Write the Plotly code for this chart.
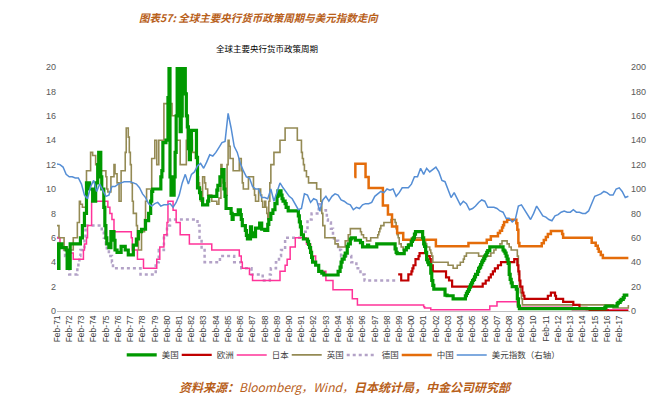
import plotly.graph_objects as go

# ---------------- data ----------------
us_dates = ["1971-02","1971-03","1971-04","1971-07","1971-11","1971-12","1972-03","1972-09","1973-01","1973-03","1973-05","1973-07","1973-10",
            "1974-01","1974-04","1974-06","1974-07","1974-09","1974-10","1974-12","1975-01","1975-02","1975-03","1975-05","1975-07","1975-10","1975-11",
            "1976-01","1976-05","1976-09","1976-12","1977-05","1977-08","1977-10","1978-01","1978-05","1978-08","1978-10","1978-11","1978-12",
            "1979-08","1979-09","1979-10","1980-01","1980-03","1980-04","1980-05","1980-06","1980-09","1980-10","1980-11","1980-12",
            "1981-02","1981-03","1981-04","1981-05","1981-08","1981-09","1981-10","1981-11","1981-12","1982-01","1982-02","1982-07","1982-08",
            "1982-10","1982-11","1983-01","1983-06","1983-07","1984-03","1984-04","1984-06","1984-08","1984-10","1984-11","1984-12",
            "1985-05","1985-06","1985-07","1985-12","1986-02","1986-03","1986-04","1986-07","1986-08","1986-09","1986-12","1987-01","1987-02",
            "1987-05","1987-09","1987-11","1988-02","1988-05","1988-06","1988-08","1988-10","1988-12","1989-02","1989-03","1989-06","1989-07",
            "1989-08","1989-10","1989-11","1990-01","1990-11","1990-12","1991-01","1991-02","1991-04","1991-08","1991-09","1991-10","1991-11",
            "1991-12","1992-01","1992-04","1992-07","1992-10","1992-12","1994-02","1994-04","1994-05","1994-06","1994-08","1994-09","1994-11",
            "1994-12","1995-02","1995-03","1995-07","1995-12","1996-02","1996-07","1996-08","1997-04","1998-10","1998-11","1998-12","1999-07",
            "1999-09","1999-11","2000-02","2000-03","2000-04","2000-05","2000-06","2001-01","2001-02","2001-03","2001-04","2001-05","2001-06",
            "2001-07","2001-09","2001-10","2001-11","2001-12","2002-11","2003-01","2003-07","2004-07","2004-08","2004-09","2004-10","2004-11",
            "2004-12","2005-01","2005-02","2005-03","2005-04","2005-05","2005-07","2005-08","2005-09","2005-10","2005-11","2005-12","2006-01",
            "2006-02","2006-03","2006-04","2006-05","2006-07","2007-08","2007-09","2007-10","2007-11","2007-12","2008-01","2008-02","2008-03",
            "2008-04","2008-05","2008-09","2008-10","2008-11","2008-12","2015-12","2016-01","2016-12","2017-01","2017-03","2017-04","2017-06",
            "2017-07","2017-11"]
us_values = [5.5,3.5,5.5,5.2,5.0,3.5,5.5,5.5,6.0,7.0,8.0,10.5,10.0,
             9.0,10.5,12.0,13.0,11.0,10.0,8.5,7.0,6.0,5.5,5.2,6.5,5.8,5.0,
             4.8,5.3,5.0,4.6,5.4,5.9,6.5,6.7,7.4,8.0,9.0,9.8,10.0,
             11.0,11.5,13.8,14.0,17.5,20.0,11.0,9.5,11.0,13.0,16.0,20.0,
             16.0,14.7,16.0,20.0,17.8,16.0,15.1,13.3,12.4,13.2,14.8,12.6,10.1,
             9.7,9.2,8.7,9.0,9.4,9.9,10.3,11.0,11.6,10.0,9.4,8.4,
             8.0,7.5,7.9,8.3,7.9,7.5,7.0,6.6,6.2,5.9,6.9,6.4,6.1,
             6.8,7.2,6.7,6.6,7.1,7.5,8.0,8.3,8.8,9.4,9.85,9.5,9.2,
             9.0,8.8,8.5,8.2,7.8,7.3,6.9,6.25,5.9,5.7,5.45,5.2,4.8,
             4.4,4.0,3.75,3.25,3.1,2.95,3.25,3.6,4.0,4.25,4.5,4.75,5.3,
             5.5,5.9,6.0,5.8,5.6,5.25,5.4,5.25,5.5,5.1,4.8,4.7,5.0,
             5.2,5.4,5.7,5.85,6.0,6.3,6.5,6.0,5.5,5.3,4.8,4.2,4.0,
             3.8,3.1,2.5,2.1,1.8,1.3,1.25,1.0,1.25,1.45,1.6,1.75,1.95,
             2.15,2.3,2.5,2.6,2.8,3.0,3.25,3.5,3.6,3.8,4.0,4.15,4.3,
             4.5,4.6,4.8,4.95,5.25,5.0,4.9,4.75,4.5,4.25,3.9,3.0,2.6,
             2.3,2.0,1.8,1.0,0.4,0.2,0.3,0.4,0.6,0.7,0.85,0.95,1.1,
             1.3,1.3]

eu_dates = ["1999-01","1999-04","1999-11","2000-02","2000-03","2000-04","2000-06","2000-09","2000-10","2001-05","2001-08","2001-09",
            "2001-11","2002-12","2003-03","2003-06","2005-12","2006-03","2006-06","2006-08","2006-10","2006-12","2007-03","2007-06",
            "2008-07","2008-10","2008-11","2008-12","2009-01","2009-03","2009-04","2009-05","2011-04","2011-07","2011-11","2011-12",
            "2012-07","2013-05","2013-11","2014-06","2014-09","2016-03","2017-11"]
eu_values = [3.0,2.5,3.0,3.25,3.5,3.75,4.25,4.5,4.75,4.5,4.25,3.75,
             3.25,2.75,2.5,2.0,2.25,2.5,2.75,3.0,3.25,3.5,3.75,4.0,
             4.25,3.75,3.25,2.5,2.0,1.5,1.25,1.0,1.25,1.5,1.25,1.0,
             0.75,0.5,0.25,0.15,0.05,0.0,0.0]

jp_dates = ["1971-02","1971-05","1971-07","1971-12","1972-06","1973-04","1973-05","1973-07","1973-08","1973-12","1975-04","1975-06",
            "1975-08","1975-10","1977-03","1977-04","1977-09","1978-03","1979-04","1979-07","1979-11","1980-02","1980-03","1980-08",
            "1980-11","1981-03","1981-12","1983-10","1986-01","1986-03","1986-04","1986-11","1987-02","1989-05","1989-10","1989-12",
            "1990-03","1990-08","1991-07","1991-11","1991-12","1992-04","1992-07","1993-02","1993-09","1995-04","1995-09","2001-02",
            "2001-03","2001-09","2006-07","2007-02","2008-10","2008-12","2013-04","2017-11"]
jp_values = [6.0,5.5,5.25,4.75,4.25,5.0,5.5,6.0,7.0,9.0,8.5,8.0,
             7.5,6.5,6.0,5.0,4.25,3.5,4.25,5.25,6.25,7.25,9.0,8.25,
             7.25,6.25,5.5,5.0,4.5,4.0,3.5,3.0,2.5,3.25,3.75,4.25,
             5.25,6.0,5.5,5.0,4.5,3.75,3.25,2.5,1.75,1.0,0.5,0.35,
             0.25,0.1,0.4,0.75,0.5,0.3,0.1,0.1]

uk_dates = ["1971-02","1971-04","1971-09","1972-06","1972-10","1972-12","1973-01","1973-03","1973-07","1973-11","1974-01","1974-04",
            "1974-09","1975-02","1975-03","1975-04","1975-07","1975-10","1975-11","1976-01","1976-03","1976-05","1976-09","1976-10",
            "1976-12","1977-01","1977-02","1977-03","1977-04","1977-05","1977-08","1977-09","1977-10","1978-01","1978-04","1978-05",
            "1978-06","1978-11","1979-02","1979-04","1979-06","1979-11","1980-07","1980-11","1981-03","1981-09","1981-10","1981-11",
            "1982-01","1982-03","1982-06","1982-08","1982-09","1982-10","1982-11","1983-01","1983-03","1983-04","1983-06","1983-10",
            "1984-03","1984-05","1984-07","1984-08","1984-09","1984-11","1985-01","1985-02","1985-03","1985-04","1985-07","1986-01",
            "1986-03","1986-04","1986-05","1986-10","1987-03","1987-04","1987-05","1987-08","1987-10","1987-11","1987-12","1988-02",
            "1988-03","1988-04","1988-05","1988-06","1988-07","1988-08","1988-11","1989-05","1989-10","1990-10","1991-02","1991-03",
            "1991-04","1991-05","1991-07","1991-09","1992-05","1992-09","1992-10","1992-11","1993-01","1993-11","1994-02","1994-09",
            "1994-12","1995-02","1995-12","1996-01","1996-03","1996-06","1996-10","1997-05","1997-06","1997-07","1997-08","1997-11",
            "1998-06","1998-10","1998-11","1998-12","1999-01","1999-02","1999-04","1999-06","1999-09","1999-11","2000-01","2000-02",
            "2001-02","2001-04","2001-05","2001-08","2001-09","2001-10","2001-11","2003-02","2003-07","2003-11","2004-02","2004-05",
            "2004-06","2004-08","2005-08","2006-08","2006-11","2007-01","2007-05","2007-07","2007-12","2008-02","2008-04","2008-10",
            "2008-11","2008-12","2009-01","2009-02","2009-03","2016-08","2017-11"]
uk_values = [7.0,6.0,5.0,6.0,7.25,9.0,8.75,8.5,11.5,13.0,12.75,12.0,
             11.5,11.0,10.0,9.75,11.0,12.0,11.25,10.5,9.0,11.5,13.0,15.0,
             14.25,13.0,12.0,10.5,9.0,8.0,7.0,6.0,5.0,6.5,7.5,9.0,
             10.0,12.5,14.0,12.0,14.0,17.0,16.0,14.0,12.0,14.0,16.0,14.5,
             14.0,13.0,12.5,11.0,10.5,10.0,9.0,11.0,10.5,10.0,9.5,9.0,
             8.75,9.25,12.0,11.0,10.5,9.5,12.0,14.0,13.5,12.5,11.5,12.5,
             11.5,10.5,10.0,11.0,10.0,9.5,9.0,10.0,9.5,9.0,8.5,9.0,
             8.5,8.0,7.5,9.0,10.5,12.0,13.0,14.0,15.0,14.0,13.0,12.5,
             12.0,11.5,11.0,10.5,10.0,9.0,8.0,7.0,6.0,5.5,5.25,5.75,
             6.25,6.75,6.5,6.25,6.0,5.75,6.0,6.25,6.5,6.75,7.0,7.25,
             7.5,7.25,6.75,6.25,6.0,5.5,5.25,5.0,5.25,5.5,5.75,6.0,
             5.75,5.5,5.25,5.0,4.75,4.5,4.0,3.75,3.5,3.75,4.0,4.25,
             4.5,4.75,4.5,4.75,5.0,5.25,5.5,5.75,5.5,5.25,5.0,4.5,
             3.0,2.0,1.5,1.0,0.5,0.25,0.5]

de_dates = ["1971-02","1971-04","1971-10","1971-12","1972-02","1972-10","1972-11","1972-12","1973-01","1973-05","1973-06","1974-10",
            "1974-12","1975-02","1975-03","1975-05","1975-08","1975-09","1977-12","1979-03","1979-06","1979-11","1980-02","1980-05",
            "1982-08","1982-10","1982-12","1983-03","1984-06","1985-08","1986-03","1987-01","1987-12","1988-07","1988-08","1989-01",
            "1989-04","1989-06","1989-10","1991-02","1991-08","1991-12","1992-07","1992-09","1993-02","1993-03","1993-04","1993-07",
            "1993-09","1993-10","1994-02","1994-04","1994-05","1995-03","1995-08","1995-12","1996-04","1998-12"]
de_values = [6.0,5.0,4.5,4.0,3.0,3.5,4.0,4.5,5.0,6.0,7.0,6.5,
             6.0,5.5,5.0,4.5,4.0,3.5,3.0,4.0,5.0,6.0,7.0,7.5,
             7.0,6.0,5.0,4.0,4.5,4.0,3.5,3.0,2.5,3.0,3.5,4.0,
             4.5,5.0,6.0,6.5,7.5,8.0,8.75,8.25,8.0,7.5,7.25,6.75,
             6.25,5.75,5.25,5.0,4.5,4.0,3.5,3.0,2.5,2.5]

cn_dates = ["1995-06","1995-07","1996-05","1996-08","1997-10","1998-03","1998-07","1998-12","1999-06","2002-02","2004-10","2006-04",
            "2006-08","2007-03","2007-05","2007-07","2007-08","2007-09","2007-12","2008-09","2008-10","2008-11","2008-12","2010-10",
            "2010-12","2011-02","2011-04","2011-07","2012-06","2012-07","2014-11","2015-03","2015-05","2015-06","2015-08","2015-10","2017-11"]
cn_values = [10.98,12.06,10.98,10.08,8.64,7.92,6.93,6.39,5.85,5.31,5.58,5.85,
             6.12,6.39,6.57,6.84,7.02,7.29,7.47,7.2,6.66,5.58,5.31,5.56,
             5.81,6.06,6.31,6.56,6.31,6.0,5.6,5.35,5.1,4.85,4.6,4.35,4.35]

dxy_years = list(range(1971, 2018))
dxy_months = ["02", "05", "08", "11"]
dxy_values = [
    120.5,120,118,112, 110,110,109,109, 104,95,92,102, 107,98,104,99, 94,95,102,102,
    104,105,106,106, 106,105,104,101, 96,93,88,86, 88,89,86,87, 87,88,85,89,
    95,105,112,104, 112,114,119,121, 117,122,128,127, 130,134,138,139, 162,150,135,130,
    121,115,110,109, 102,100,100,93, 93,92,100,90, 97,105,101,97, 94,92,88,83,
    84,96,95,89, 92,91,82,91, 94,90,94,96, 95,91,90,88, 87,83,85,84,
    87,88,88,89, 94,96,98,97, 100,99,100,94, 97,101,101,101, 104,110,110,117,
    112,117,114,116, 118,114,107,106, 100,93,97,92, 87,90,88,83, 84,86,89,91,
    90,85,85,85, 84,82,81,76, 76,73,75,86, 87,83,78,75, 80,86,82,78,
    77,75,74,78, 79,81,82,81, 81,83,81,81, 80,80,82,88, 94,95,96,98,
    97,95,95,100, 101,98,93,94]
dxy_dates = [f"{y}-{m}" for y in dxy_years for m in dxy_months]

tick_years = list(range(1971, 2018))
tick_vals = [f"{y}-02-01" for y in tick_years]
tick_text = [f"Feb-{str(y)[2:]}" for y in tick_years]

# ---------------- figure ----------------
fig = go.Figure()
cjk = "Noto Sans CJK SC"

def add_step(x, y, name, color, width, dash="solid"):
    fig.add_trace(go.Scatter(x=x, y=y, name=name, mode="lines", line_shape="hv",
                             line=dict(color=color, width=width, dash=dash), legendwidth=10))

add_step(de_dates, de_values, "德国", "#B3A2C7", 2.5, "dot")
add_step(jp_dates, jp_values, "日本", "#FF3399", 1.5)
add_step(uk_dates, uk_values, "英国", "#948A54", 1.6)
add_step(cn_dates, cn_values, "中国", "#E46C0A", 2.5)
add_step(eu_dates, eu_values, "欧洲", "#C00000", 2.2)
add_step(us_dates, us_values, "美国", "#009900", 3.2)
fig.add_trace(go.Scatter(x=dxy_dates, y=dxy_values, name="美元指数（右轴）", mode="lines",
                         line=dict(color="#558ED5", width=1.5), yaxis="y2", legendwidth=72))

order = {"美国": 1, "欧洲": 2, "日本": 3, "英国": 4, "德国": 5, "中国": 6, "美元指数（右轴）": 7}
for tr in fig.data:
    tr.legendrank = order[tr.name]

# page body has an 8px default margin, so the figure is 8px smaller each way
fig.update_layout(
    width=663, height=389,
    margin=dict(l=49, r=41, t=59, b=86, autoexpand=False),
    paper_bgcolor="white", plot_bgcolor="white",
    font=dict(family=cjk, size=9, color="#404040"),
    showlegend=True,
    legend=dict(orientation="h", x=0.503, xanchor="center", y=-0.18, yanchor="middle",
                font=dict(size=8.5, family=cjk, color="#404040"), itemwidth=30,
                traceorder="normal", bgcolor="rgba(0,0,0,0)"),
    xaxis=dict(type="date", range=["1971-02-01", "2017-12-20"], tickmode="array",
               tickvals=tick_vals, ticktext=tick_text, tickangle=-90, automargin=False,
               tickfont=dict(size=8.5, family="Liberation Sans", color="#404040"),
               showgrid=False, showline=True, linecolor="#BFBFBF", linewidth=1,
               ticks="", zeroline=False),
    yaxis=dict(range=[0, 20], dtick=2, showgrid=False, zeroline=False, showline=False, automargin=False,
               tickfont=dict(size=9, family="Liberation Sans", color="#595959"), ticks=""),
    yaxis2=dict(range=[0, 200], dtick=20, overlaying="y", side="right", showgrid=False,
                zeroline=False, showline=False, automargin=False,
                tickfont=dict(size=9, family="Liberation Sans", color="#595959"), ticks=""),
)

fig.add_annotation(text="<b><i>图表57: 全球主要央行货币政策周期与美元指数走向</i></b>",
                   xref="paper", yref="paper", x=0.352, y=1.238, showarrow=False, borderpad=0,
                   font=dict(family=cjk, size=10.5, color="#B8601A"), xanchor="center", yanchor="top")
fig.add_annotation(text="全球主要央行货币政策周期",
                   xref="paper", yref="paper", x=0.366, y=1.078, showarrow=False,
                   font=dict(family=cjk, size=8.5, color="#000000"), xanchor="center", yanchor="middle")
fig.add_annotation(text="<i><b>资料来源：</b>Bloomberg，Wind，<b>日本统计局，中金公司研究部</b></i>",
                   xref="paper", yref="paper", x=0.503, y=-0.311, showarrow=False,
                   font=dict(family=cjk, size=12, color="#B8601A"), xanchor="center", yanchor="middle")

fig.write_html("out.html")
